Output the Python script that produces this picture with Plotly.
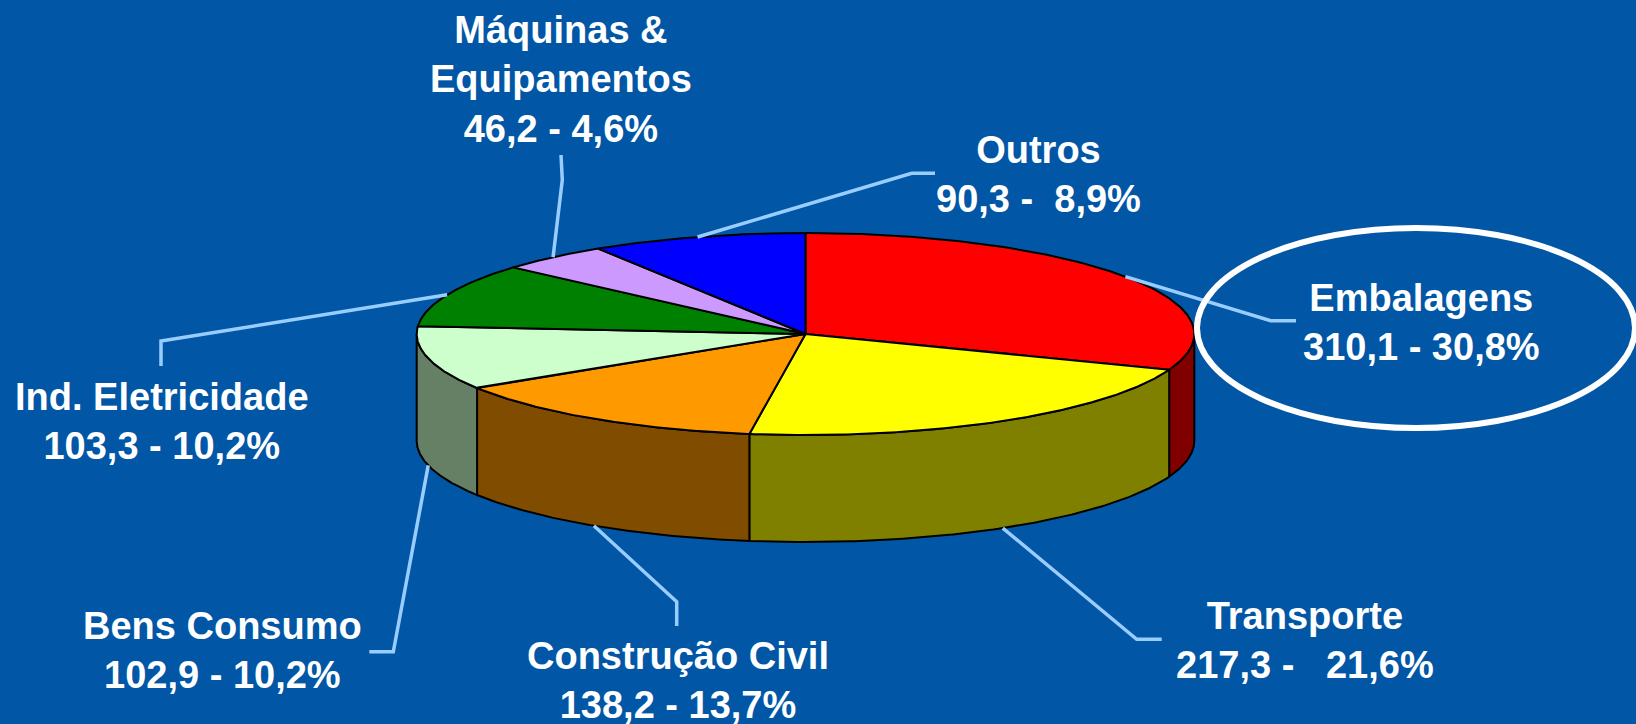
import numpy as np
import plotly.graph_objects as go

# ---------------- data ----------------
categories = ["Embalagens", "Transporte", "Construção Civil", "Bens Consumo",
              "Ind. Eletricidade", "Máquinas &<br>Equipamentos", "Outros"]
values = [310.1, 217.3, 138.2, 102.9, 103.3, 46.2, 90.3]
value_labels = ["310,1", "217,3", "138,2", "102,9", "103,3", "46,2", "90,3"]
percent_labels = ["30,8%", "21,6%", "13,7%", "10,2%", "10,2%", "4,6%", "8,9%"]
separators = [" - ", " -\u00a0\u00a0 ", " - ", " - ", " - ", " - ", " -\u00a0 "]

# ---------------- styles ----------------
top_colors = ["#FF0000", "#FFFF00", "#FF9900", "#CCFFCC", "#008000", "#CC99FF", "#0000FF"]
side_colors = ["#800000", "#808000", "#804C00", "#668066", "#004000", "#66507F", "#000080"]
BG = "#0156A5"
LEADER = "#99CCFF"

# pie geometry (pixel space)
CX, CY, RX, RY, DEPTH = 805.5, 334.0, 388.8, 101.0, 107.0

# label layout: text centre, leader elbow, leader end
label_layout = [
    dict(tx=1421, ty=322, elbow=(1270.7, 320.7), end=(1296, 320.7)),
    dict(tx=1305, ty=640, elbow=(1136.7, 639.3), end=(1161.7, 639.3)),
    dict(tx=677.5, ty=680, elbow=(676.7, 601.7), end=(676.7, 626)),
    dict(tx=222.5, ty=650, elbow=(393.3, 651.7), end=(369.3, 651.7)),
    dict(tx=162, ty=421.5, elbow=(161, 341), end=(161, 366)),
    dict(tx=560.5, ty=79, elbow=(562.3, 180), end=(561, 155)),
    dict(tx=1038, ty=174.5, elbow=(911.7, 173.3), end=(935, 173.3)),
]


def pt(theta_deg, dy=0.0):
    t = np.radians(theta_deg)
    return CX + RX * np.sin(t), CY - RY * np.cos(t) + dy


vals = np.array(values)
cum = np.concatenate([[0], np.cumsum(vals)]) / vals.sum() * 360.0

fig = go.Figure()

# side walls (visible front half: 90..270 degrees clockwise from top)
for i in range(len(values)):
    a0, a1 = max(cum[i], 90.0), min(cum[i + 1], 270.0)
    if a1 <= a0:
        continue
    th = np.linspace(a0, a1, 120)
    xt, yt = pt(th)
    xb, yb = pt(th[::-1], DEPTH)
    xs = np.concatenate([xt, xb, xt[:1]])
    ys = np.concatenate([yt, yb, yt[:1]])
    fig.add_trace(go.Scatter(x=xs, y=ys, mode="lines", fill="toself",
                             fillcolor=side_colors[i],
                             line=dict(color="black", width=2),
                             hoverinfo="skip", showlegend=False))

# top faces
for i in range(len(values)):
    th = np.linspace(cum[i], cum[i + 1], 200)
    xa, ya = pt(th)
    xs = np.concatenate([[CX], xa, [CX]])
    ys = np.concatenate([[CY], ya, [CY]])
    fig.add_trace(go.Scatter(x=xs, y=ys, mode="lines", fill="toself",
                             fillcolor=top_colors[i],
                             line=dict(color="black", width=2),
                             hoverinfo="skip", showlegend=False))

# leader lines + labels
for i in range(len(values)):
    mid = (cum[i] + cum[i + 1]) / 2
    sx, sy = pt(mid, DEPTH if 90 < mid < 270 else 0.0)
    L = label_layout[i]
    fig.add_trace(go.Scatter(x=[sx, L["elbow"][0], L["end"][0]],
                             y=[sy, L["elbow"][1], L["end"][1]],
                             mode="lines", line=dict(color=LEADER, width=3.5),
                             hoverinfo="skip", showlegend=False))
    txt = "<b>" + categories[i] + "<br>" + value_labels[i] + separators[i] + percent_labels[i] + "</b>"
    fig.add_annotation(x=L["tx"], y=L["ty"], xref="x", yref="y", text=txt,
                       showarrow=False, xanchor="center", yanchor="middle",
                       align="center",
                       font=dict(family="Liberation Sans, Arial, sans-serif",
                                 size=38, color="white"))

# highlight ellipse around the largest category label
fig.add_shape(type="circle", xref="x", yref="y", x0=1197, x1=1635, y0=228, y1=428,
              line=dict(color="white", width=6))

fig.update_xaxes(range=[0, 1636], visible=False, fixedrange=True)
fig.update_yaxes(range=[724, 0], visible=False, fixedrange=True)
fig.update_layout(width=1636, height=724, margin=dict(l=0, r=0, t=0, b=0),
                  paper_bgcolor=BG, plot_bgcolor=BG, showlegend=False)

fig.write_html("out.html", config={"displayModeBar": False},
               post_script="document.body.style.margin='0';document.body.style.overflow='hidden';"
                           "document.body.style.background='" + BG + "';")
